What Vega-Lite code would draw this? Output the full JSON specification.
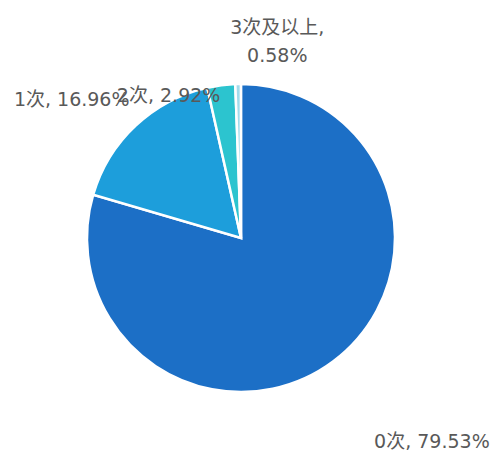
{
  "$schema": "https://vega.github.io/schema/vega-lite/v6.json",
  "width": 482,
  "height": 452,
  "autosize": "none",
  "padding": {"left": 0, "top": 12, "right": 14, "bottom": 0},
  "background": "white",
  "data": {"values": [
    {"category": "0次", "value": 79.53, "order": 1},
    {"category": "1次", "value": 16.96, "order": 2},
    {"category": "2次", "value": 2.92, "order": 3},
    {"category": "3次及以上", "value": 0.58, "order": 4}
  ]},
  "transform": [
    {"stack": "value", "groupby": [], "sort": [{"field": "order", "order": "ascending"}], "as": ["v0", "v1"]},
    {"calculate": "(datum.v0 + datum.v1) / 2", "as": "mid"},
    {"calculate": "datum.category + ', ' + format(datum.value, '.2f') + '%'", "as": "label"},
    {"calculate": "datum.category + ',\\n' + format(datum.value, '.2f') + '%'", "as": "label2"}
  ],
  "layer": [
    {
      "mark": {"type": "arc", "outerRadius": 154, "stroke": "white", "strokeWidth": 2.5},
      "encoding": {
        "theta": {"field": "v0", "type": "quantitative", "scale": {"domain": [0, 100], "range": [0, 6.283185307179586]}},
        "theta2": {"field": "v1"},
        "color": {"field": "category", "type": "nominal", "legend": null,
          "scale": {"domain": ["0次", "1次", "2次", "3次及以上"], "range": ["#1c6fc6", "#1d9edb", "#2cc4cf", "#a2dcec"]}}
      }
    },
    {
      "transform": [{"filter": "datum.order == 1"}],
      "mark": {"type": "text", "radius": 255, "dx": 38, "dy": 0, "font": "DejaVu Sans, Noto Sans CJK SC", "fontSize": 19, "fill": "#595959"},
      "encoding": {"theta": {"field": "mid", "type": "quantitative"}, "text": {"field": "label"}}
    },
    {
      "transform": [{"filter": "datum.order == 2"}],
      "mark": {"type": "text", "radius": 189, "dx": -40, "dy": 0, "font": "DejaVu Sans, Noto Sans CJK SC", "fontSize": 19, "fill": "#595959"},
      "encoding": {"theta": {"field": "mid", "type": "quantitative"}, "text": {"field": "label"}}
    },
    {
      "transform": [{"filter": "datum.order == 3"}],
      "mark": {"type": "text", "radius": 143, "dx": -54, "dy": 0, "font": "DejaVu Sans, Noto Sans CJK SC", "fontSize": 19, "fill": "#595959"},
      "encoding": {"theta": {"field": "mid", "type": "quantitative"}, "text": {"field": "label"}}
    },
    {
      "transform": [{"filter": "datum.order == 4"}],
      "mark": {"type": "text", "radius": 197, "dx": 40, "dy": -13, "font": "DejaVu Sans, Noto Sans CJK SC", "fontSize": 19, "fill": "#595959", "lineBreak": "\n", "lineHeight": 28},
      "encoding": {"theta": {"field": "mid", "type": "quantitative"}, "text": {"field": "label2"}}
    }
  ]
}
